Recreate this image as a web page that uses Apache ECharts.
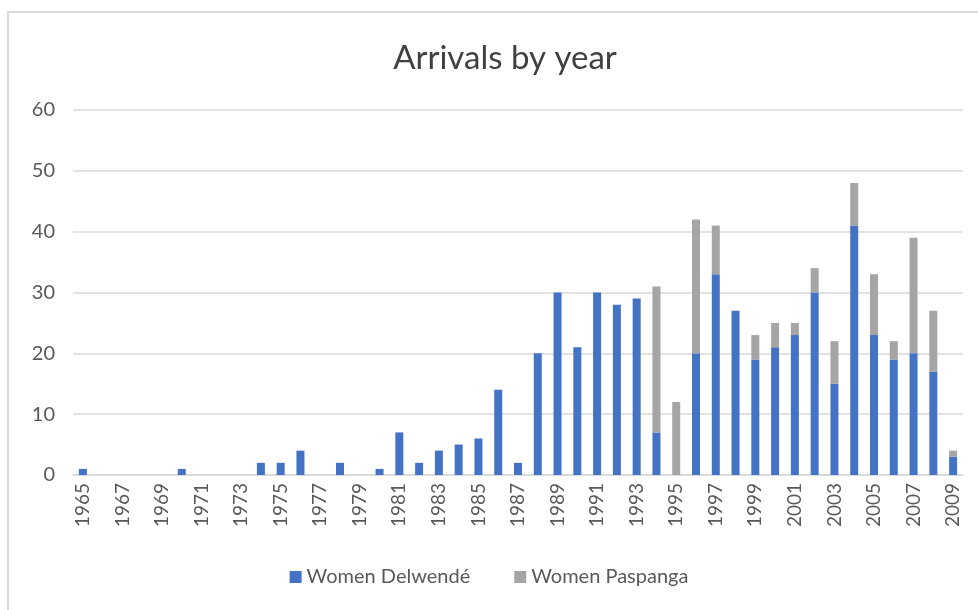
<!DOCTYPE html>
<html>
<head>
<meta charset="utf-8">
<script src="https://cdn.jsdelivr.net/npm/echarts@6/dist/echarts.min.js"></script>
<style>
  html, body { margin: 0; padding: 0; background: #fff; }
  #chart { width: 978px; height: 610px; }
</style>
</head>
<body>
<div id="chart"></div>
<script>
var years = [];
for (var y = 1965; y <= 2009; y++) years.push(String(y));

// arrivals per year
var delwende = [1, 0, 0, 0, 0, 1, 0, 0, 0, 2, 2, 4, 0, 2, 0, 1, 7, 2, 4, 5, 6, 14, 2, 20, 30,
  21, 30, 28, 29, 7, 0, 20, 33, 27, 19, 21, 23, 30, 15, 41, 23, 19, 20, 17, 3];
var paspanga = [0, 0, 0, 0, 0, 0, 0, 0, 0, 0, 0, 0, 0, 0, 0, 0, 0, 0, 0, 0, 0, 0, 0, 0, 0,
  0, 0, 0, 0, 24, 12, 22, 8, 0, 4, 4, 2, 4, 7, 7, 10, 3, 19, 10, 1];

var chart = echarts.init(document.getElementById("chart"));
var font = "Lato, 'Open Sans', sans-serif";

chart.setOption({
  animation: false,
  color: ["#4472C4", "#A5A5A5"],
  graphic: [
    {
      type: "rect",
      shape: { x: 8, y: 12, width: 1000, height: 700 },
      style: { fill: "none", stroke: "#d9d9d9", lineWidth: 2 }
    }
  ],
  title: {
    text: "Arrivals by year",
    left: 500,
    textAlign: "center",
    top: 37,
    textStyle: { fontFamily: font, fontSize: 33, fontWeight: "normal", color: "#404040" }
  },
  legend: {
    bottom: 18,
    left: "center",
    itemWidth: 12,
    itemHeight: 12,
    itemGap: 44,
    icon: "rect",
    textStyle: { fontFamily: font, fontSize: 20, color: "#595959" },
    data: ["Women Delwendé", "Women Paspanga"]
  },
  grid: { left: 73, right: 15, top: 110, bottom: 135 },
  xAxis: {
    type: "category",
    data: years,
    axisLine: { lineStyle: { color: "#d9d9d9", width: 1.5 } },
    axisTick: { show: false },
    axisLabel: {
      interval: 1,
      rotate: 90,
      margin: 8,
      fontFamily: font,
      fontSize: 19,
      color: "#595959"
    }
  },
  yAxis: {
    type: "value",
    min: 0,
    max: 60,
    interval: 10,
    axisLine: { show: false },
    axisTick: { show: false },
    splitLine: { lineStyle: { color: "#d9d9d9", width: 1.5 } },
    axisLabel: { margin: 18, fontFamily: font, fontSize: 20, color: "#595959" }
  },
  series: [
    {
      name: "Women Delwendé",
      type: "bar",
      stack: "total",
      barWidth: 8,
      data: delwende
    },
    {
      name: "Women Paspanga",
      type: "bar",
      stack: "total",
      barWidth: 8,
      data: paspanga
    }
  ]
});
</script>
</body>
</html>
